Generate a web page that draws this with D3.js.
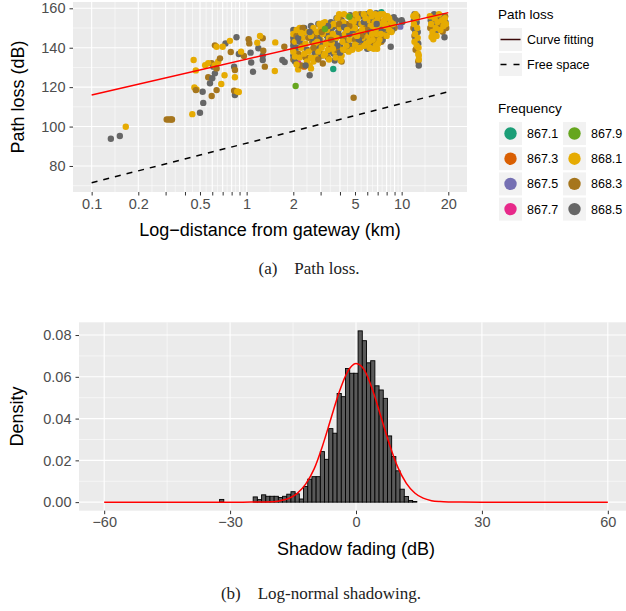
<!DOCTYPE html>
<html>
<head>
<meta charset="utf-8">
<script src="https://cdn.jsdelivr.net/npm/d3@7"></script>
<style>
  body { margin: 0; background: #fff; }
  text { font-family: "Liberation Sans", Arial, sans-serif; }
  .caption { font-family: "Liberation Serif", "DejaVu Serif", serif; }
</style>
</head>
<body>
<div id="chart"></div>
<script>
// ---- (a) path loss vs distance ----
const freqLabels = ["867.1", "867.3", "867.5", "867.7", "867.9", "868.1", "868.3", "868.5"];
const freqColors = ["#1B9E77", "#D95F02", "#7570B3", "#E7298A", "#66A61E", "#E6AB02", "#A6761D", "#666666"];

// [distance km, path loss dB] per channel
const pts8671 = [[3.62, 129.2], [7.4, 158], [9.0, 152.4]];
const pts8673 = [[2.35, 130.4], [3.48, 140.8]];
const pts8675 = [[9.8, 150.7]];
const pts8677 = [[2.15, 132.1]];
const pts8679 = [[2.07, 120.6], [4.6, 155.7], [3.2, 149.5]];
const pts8681 = [
  [0.166, 99.9], [0.446, 106.3], [0.46, 119.8], [0.475, 118.8], [0.455, 133.8], [0.47, 128.5],
  [0.54, 131.1], [0.565, 132.1], [0.62, 131], [0.655, 132.9], [0.70, 140.5], [0.64, 140.5],
  [0.78, 143.5], [0.686, 121.6], [0.72, 126], [0.84, 125], [0.87, 117.8], [0.89, 117.5],
  [0.92, 138], [1.22, 146], [1.17, 142.5], [1.53, 142.7], [1.52, 128.2],
  [2.0, 147], [2.05, 143], [2.1, 149], [2.15, 129], [2.2, 135], [2.25, 140], [2.3, 145],
  [2.35, 137], [2.4, 142], [2.45, 133], [2.1, 131.5], [2.0, 138], [2.2, 150], [2.4, 148],
  [2.55, 131], [2.6, 129.5], [2.6, 146], [2.65, 139], [2.7, 150], [2.75, 142], [2.8, 135],
  [2.85, 148], [2.9, 138], [2.95, 152], [3.0, 144], [3.05, 140], [3.1, 147], [3.15, 136],
  [3.2, 153], [3.25, 142], [3.3, 149], [3.35, 139], [3.4, 145], [3.45, 151], [2.6, 135],
  [2.7, 133], [3.0, 150], [3.2, 137],
  [3.55, 142], [3.6, 147], [3.65, 152], [3.7, 138], [3.8, 145], [3.85, 155], [3.9, 140],
  [4.0, 150], [4.1, 136], [4.15, 143], [4.2, 153], [4.3, 147], [4.4, 141], [4.5, 156],
  [4.6, 144], [4.7, 150], [4.8, 139], [4.9, 153], [4.95, 146], [3.75, 135], [4.05, 133.5],
  [4.25, 157], [4.55, 138],
  [5.0, 150], [5.1, 143], [5.2, 155], [5.3, 147], [5.4, 140], [5.5, 152], [5.6, 145],
  [5.7, 157], [5.8, 149], [5.9, 142], [6.0, 154], [6.1, 146], [6.2, 140], [6.3, 151],
  [6.4, 156], [6.5, 144], [6.6, 149], [6.7, 153], [6.8, 141], [6.9, 147], [7.0, 155],
  [7.1, 150], [7.2, 144], [7.3, 157], [7.4, 152], [5.25, 139.5], [5.75, 141], [6.25, 158],
  [6.95, 139.5], [5.05, 157],
  [7.5, 148], [7.7, 154], [7.9, 151], [8.1, 156], [8.3, 149], [8.5, 153], [8.0, 146],
  [7.6, 157], [8.8, 152],
  [11.9, 156], [12.0, 152], [12.2, 147], [12.4, 155], [12.1, 143], [12.6, 150], [12.8, 137],
  [12.9, 134], [12.85, 140], [12.7, 145], [12.3, 157], [12.5, 141], [12.9, 136],
  [15.2, 156], [15.5, 152], [15.8, 148], [16.0, 144.3], [16.3, 155], [16.6, 150], [17.0, 153],
  [17.4, 157], [17.8, 149], [18.2, 154], [18.6, 151], [19.0, 155], [19.3, 152], [15.6, 145.5],
  [16.8, 146],
  [2.25, 147.5], [2.5, 138], [2.85, 143], [3.1, 152.5], [3.4, 134], [3.95, 157], [4.45, 149],
  [4.75, 154], [5.15, 146], [5.55, 149], [5.85, 155], [6.15, 143], [6.45, 147], [6.75, 157],
  [7.05, 142], [7.35, 147], [7.8, 152], [8.3, 155], [2.05, 135.5], [3.6, 139.5], [4.2, 139],
  [5.0, 141.5], [6.6, 139.5], [8.6, 148]
];
const pts8683 = [
  [0.305, 103.6], [0.315, 103.6], [0.325, 103.6], [0.33, 103.6], [0.47, 118.5], [0.565, 125],
  [0.595, 115.5], [0.595, 132.1], [0.624, 141.2], [0.64, 129.5], [0.64, 118.5], [0.673, 134.6],
  [0.79, 137.8], [0.84, 128.7], [0.83, 118.2], [0.96, 135.8], [1.03, 144.3], [1.04, 142.2],
  [1.27, 144.8], [1.28, 138.5], [1.31, 130.4], [1.75, 140.5],
  [2.0, 143], [2.0, 139], [2.0, 134], [2.1, 146], [2.15, 137], [2.25, 131], [2.3, 141],
  [2.4, 135], [2.5, 145],
  [2.55, 135], [2.65, 143], [2.8, 145], [2.9, 141], [3.0, 137], [3.15, 151], [3.3, 143],
  [3.45, 148], [2.7, 148], [3.1, 132], [3.35, 135],
  [3.6, 145], [3.75, 151], [3.9, 136], [4.0, 146], [4.1, 133], [4.25, 139], [4.4, 152],
  [4.55, 147], [4.7, 141], [4.85, 155], [4.0, 156], [4.3, 144], [4.9, 114.6],
  [5.1, 153], [5.25, 148], [5.4, 157], [5.6, 141], [5.75, 151], [5.9, 146], [6.05, 156],
  [6.2, 143], [6.35, 149], [6.5, 153], [6.65, 142], [6.8, 150], [6.95, 145], [7.1, 156],
  [7.25, 148], [7.4, 143],
  [7.7, 149], [7.9, 156], [8.2, 148], [8.4, 154], [9.0, 150],
  [11.9, 150], [12.1, 146], [12.4, 152], [12.6, 156], [12.8, 133], [12.6, 143], [12.3, 139],
  [15.3, 150], [16.1, 148], [16.9, 155], [17.6, 151], [18.4, 148.1], [19.1, 156], [19.4, 150],
  [2.3, 150], [2.7, 140], [3.05, 148], [3.5, 144], [3.95, 152], [4.6, 151], [5.0, 144],
  [5.5, 146], [6.0, 149], [6.6, 145], [7.2, 153], [7.6, 146], [8.5, 151], [2.9, 134], [3.8, 139]
];
const pts8685 = [
  [0.133, 93.8], [0.152, 95.2], [0.50, 107], [0.525, 112], [0.52, 117.7], [0.58, 122],
  [0.60, 124.5], [0.624, 127], [0.61, 130.4], [0.73, 142.2], [0.86, 145.3], [0.83, 130.4],
  [0.84, 116], [0.89, 136.8], [1.06, 137.5], [1.10, 127.8], [1.19, 139.7], [1.27, 133.8],
  [1.27, 136], [1.07, 132.5], [1.70, 133.8], [1.76, 132.7],
  [2.0, 149], [2.0, 145], [2.0, 141], [2.0, 136], [2.05, 133], [2.1, 140], [2.2, 143],
  [2.3, 147], [2.45, 139], [2.55, 126], [2.35, 150],
  [2.6, 151], [2.7, 144], [2.8, 140], [2.9, 152], [3.0, 147], [3.1, 142], [3.2, 150],
  [3.3, 146], [3.4, 138], [3.5, 153], [2.75, 137], [3.05, 136], [3.7, 133.5],
  [3.55, 150], [3.7, 143], [3.8, 155], [3.9, 148], [4.0, 141], [4.1, 154], [4.2, 146],
  [4.35, 150], [4.5, 143], [4.65, 156.5], [4.8, 148], [4.9, 141], [3.65, 137], [4.45, 139],
  [5.05, 146], [5.2, 141], [5.35, 152], [5.5, 156], [5.65, 148], [5.8, 143], [5.95, 157],
  [6.1, 151], [6.25, 145], [6.4, 140], [6.55, 155], [6.7, 147], [6.85, 157.5], [7.0, 151],
  [7.15, 146], [7.3, 153], [5.45, 144], [6.0, 139.5],
  [7.6, 151], [7.8, 147], [8.0, 155], [8.2, 152], [8.7, 149], [9.2, 154], [8.5, 140.5],
  [7.55, 144], [10.0, 154], [10.1, 153],
  [12.0, 154], [12.2, 149], [12.5, 153], [12.3, 144], [12.7, 148], [12.9, 131], [12.8, 142],
  [12.1, 157],
  [15.4, 154], [15.9, 146.5], [16.5, 152], [17.2, 149], [18.0, 156], [18.9, 145.3], [19.2, 153],
  [16.2, 157],
  [2.15, 145], [2.55, 148], [2.95, 144], [3.35, 151], [3.85, 141], [4.25, 150.5], [4.6, 147],
  [5.3, 144], [5.7, 153], [6.3, 148], [6.9, 152], [7.45, 149], [8.1, 150], [8.9, 155.5],
  [2.4, 131], [4.0, 137.5]
];

// fitted lines (distance km -> dB)
const lineDist = [0.1, 20];
const curveFitLoss = [116.0, 157.8];
const freeSpaceLoss = [71.5, 117.7];

const distBreaks = [0.1, 0.2, 0.3, 0.4, 0.5, 0.6, 0.7, 0.8, 0.9, 1, 2, 3, 4, 5, 6, 7, 8, 9, 10, 20];
const distLabels = [0.1, 0.2, 0.5, 1, 2, 5, 10, 20];
const lossBreaks = [80, 100, 120, 140, 160];
const lossMinor = [70, 90, 110, 130, 150];

// ---- (b) shadow fading histogram ----
const fadingBinMid = d3.range(-32, 20);
const fadingDensity = [
  0.0013, 0, 0, 0, 0, 0, 0, 0,
  0.0025, 0.0012, 0.0035, 0.0028, 0.0028, 0.0028, 0.0022, 0.0028, 0.0038, 0.0050, 0.0040, 0.0015,
  0.0075, 0.0110, 0.0122, 0.0122, 0.0242, 0.0205, 0.0352, 0.0330, 0.0520, 0.0505,
  0.0640, 0.0617, 0.0617, 0.0820, 0.0773, 0.0667, 0.0677, 0.0557, 0.0537, 0.0497,
  0.0317, 0.0218, 0.0150, 0.0062, 0.0027, 0.0008, 0.0003, 0, 0, 0, 0, 0
];
const fitX = [-60, -40, -30, -25, -22, -20, -18, -16, -14, -12, -10, -8, -6, -4, -2, 0, 2, 4, 6, 8, 10, 12, 14, 16, 18, 20, 22, 25, 30, 40, 60];
const fitY = [0, 0, 0, 0.00001, 0.00008, 0.0002, 0.0007, 0.0018, 0.0042, 0.0086, 0.0158, 0.0268, 0.0398, 0.0527, 0.0625, 0.0664, 0.0632, 0.0535, 0.0405, 0.0275, 0.0165, 0.009, 0.0044, 0.0019, 0.0007, 0.00025, 0.00008, 0.00001, 0, 0, 0];
const fadingBreaks = [-60, -30, 0, 30, 60];
const fadingMinor = [-45, -15, 15, 45];
const densBreaks = [0, 0.02, 0.04, 0.06, 0.08];
const densMinor = [0.01, 0.03, 0.05, 0.07];

const W = 626, H = 611;
const svg = d3.select("#chart").append("svg").attr("width", W).attr("height", H);

const panelBg = "#ebebeb", axisText = "#4d4d4d", tickCol = "#333333";

function grid(g, p, xs, ys, x, y, w) {
  g.selectAll(null).data(xs).enter().append("line")
    .attr("x1", d => x(d)).attr("x2", d => x(d)).attr("y1", p.top).attr("y2", p.bottom)
    .attr("stroke", "#fff").attr("stroke-width", w);
  g.selectAll(null).data(ys).enter().append("line")
    .attr("y1", d => y(d)).attr("y2", d => y(d)).attr("x1", p.left).attr("x2", p.right)
    .attr("stroke", "#fff").attr("stroke-width", w);
}

function styleAxis(g) {
  g.select(".domain").remove();
  g.selectAll(".tick line").attr("stroke", tickCol).attr("stroke-width", 1);
  g.selectAll(".tick text").attr("fill", axisText).style("font-size", "14.5px")
    .style("font-family", "Liberation Sans, Arial, sans-serif");
}

// ================= panel (a) =================
const p1 = { left: 73, right: 467, top: 2, bottom: 192 };
const x1 = d3.scaleLog().domain([0.0758, 26.4]).range([p1.left, p1.right]);
const y1 = d3.scaleLinear().domain([66.8, 163.2]).range([p1.bottom, p1.top]);

const g1 = svg.append("g");
g1.append("rect").attr("x", p1.left).attr("y", p1.top)
  .attr("width", p1.right - p1.left).attr("height", p1.bottom - p1.top).attr("fill", panelBg);

const distMinor = d3.pairs(distBreaks).map(([a, b]) => Math.sqrt(a * b));
grid(g1, p1, distMinor, lossMinor, x1, y1, 0.55);
grid(g1, p1, distBreaks, lossBreaks, x1, y1, 1.1);

svg.append("clipPath").attr("id", "clip1").append("rect")
  .attr("x", p1.left).attr("y", p1.top).attr("width", p1.right - p1.left).attr("height", p1.bottom - p1.top);

// points: interleave the busy channels so layering looks mixed
const groups = [pts8671, pts8673, pts8675, pts8677, pts8679, pts8681, pts8683, pts8685];
const rarePts = [];
[0, 1, 2, 3].forEach(i => groups[i].forEach(p => rarePts.push({ d: p[0], v: p[1], c: i })));
const commonPts = [];
const maxLen = d3.max([pts8681, pts8683, pts8685], a => a.length);
for (let k = 0; k < maxLen; k++) {
  [7, 6, 5].forEach(i => { if (groups[i][k]) commonPts.push({ d: groups[i][k][0], v: groups[i][k][1], c: i }); });
}
const greenPts = groups[4].map(p => ({ d: p[0], v: p[1], c: 4 }));
const allPts = rarePts.concat(commonPts, greenPts);

g1.append("g").attr("clip-path", "url(#clip1)")
  .selectAll("circle").data(allPts).enter().append("circle")
  .attr("cx", d => x1(d.d)).attr("cy", d => y1(d.v)).attr("r", 3.2)
  .attr("fill", d => freqColors[d.c]);

const lineGen = d3.line().x(d => x1(d[0])).y(d => y1(d[1]));
g1.append("path").datum(lineDist.map((d, i) => [d, freeSpaceLoss[i]]))
  .attr("d", lineGen).attr("fill", "none").attr("stroke", "#000")
  .attr("stroke-width", 1.5).attr("stroke-dasharray", "6,6");
g1.append("path").datum(lineDist.map((d, i) => [d, curveFitLoss[i]]))
  .attr("d", lineGen).attr("fill", "none").attr("stroke", "#ff0000").attr("stroke-width", 1.5);

const ax1 = g1.append("g").attr("transform", `translate(0,${p1.bottom})`)
  .call(d3.axisBottom(x1).tickValues(distBreaks).tickSize(3.5).tickPadding(3)
    .tickFormat(d => distLabels.includes(d) ? String(d) : ""));
styleAxis(ax1);
const ay1 = g1.append("g").attr("transform", `translate(${p1.left},0)`)
  .call(d3.axisLeft(y1).tickValues(lossBreaks).tickSize(3.5).tickPadding(4));
styleAxis(ay1);

g1.append("text").attr("x", (p1.left + p1.right) / 2).attr("y", 236)
  .attr("text-anchor", "middle").style("font-size", "18px").attr("fill", "#000")
  .text("Log\u2212distance from gateway (km)");
g1.append("text").attr("transform", `translate(24,${(p1.top + p1.bottom) / 2}) rotate(-90)`)
  .attr("text-anchor", "middle").style("font-size", "18px").attr("fill", "#000")
  .text("Path loss (dB)");

// legend
const lg = svg.append("g");
lg.append("text").attr("x", 498).attr("y", 19).style("font-size", "13.5px").text("Path loss");
const lineKeys = [{ label: "Curve fitting", dash: null }, { label: "Free space", dash: "6,7" }];
lineKeys.forEach((k, i) => {
  const ky = 28 + i * 25;
  lg.append("rect").attr("x", 499).attr("y", ky).attr("width", 23).attr("height", 23).attr("fill", "#f2f2f2");
  lg.append("line").attr("x1", 500.5).attr("x2", 520.5).attr("y1", ky + 11.5).attr("y2", ky + 11.5)
    .attr("stroke", i === 0 ? "#3a0808" : "#000").attr("stroke-width", 1.5)
    .attr("stroke-dasharray", k.dash);
  lg.append("text").attr("x", 527).attr("y", ky + 16).style("font-size", "12.5px").text(k.label);
});
lg.append("text").attr("x", 498).attr("y", 113).style("font-size", "13.5px").text("Frequency");
freqLabels.forEach((f, i) => {
  const col = Math.floor(i / 4), row = i % 4;
  const kx = 499 + col * 64, ky = 122 + row * 25.2;
  lg.append("rect").attr("x", kx).attr("y", ky).attr("width", 23).attr("height", 23).attr("fill", "#f2f2f2");
  lg.append("circle").attr("cx", kx + 11.5).attr("cy", ky + 11.5).attr("r", 6.2).attr("fill", freqColors[i]);
  lg.append("text").attr("x", kx + 28).attr("y", ky + 16).style("font-size", "12.5px").text(f);
});

svg.append("text").attr("class", "caption").attr("x", 309).attr("y", 274)
  .attr("text-anchor", "middle").style("font-size", "17px").attr("fill", "#222")
  .text("(a)\u2003Path loss.");

// ================= panel (b) =================
const p2 = { left: 79, right: 633, top: 322.3, bottom: 510.7 };
const x2 = d3.scaleLinear().domain([-66, 66]).range([p2.left, p2.right]);
const y2 = d3.scaleLinear().domain([-0.0041, 0.0861]).range([p2.bottom, p2.top]);

const g2 = svg.append("g");
g2.append("rect").attr("x", p2.left).attr("y", p2.top)
  .attr("width", p2.right - p2.left).attr("height", p2.bottom - p2.top).attr("fill", panelBg);
grid(g2, p2, fadingMinor, densMinor, x2, y2, 0.55);
grid(g2, p2, fadingBreaks, densBreaks, x2, y2, 1.1);

const binW = 1;
g2.append("g").selectAll("rect").data(fadingBinMid).enter().append("rect")
  .attr("x", d => x2(d - binW / 2)).attr("width", d => x2(d + binW / 2) - x2(d - binW / 2))
  .attr("y", (d, i) => y2(fadingDensity[i]))
  .attr("height", (d, i) => y2(0) - y2(fadingDensity[i]))
  .attr("fill", "#595959").attr("stroke", "#000").attr("stroke-width", 0.9);

g2.append("path").datum(fitX.map((d, i) => [d, fitY[i]]))
  .attr("d", d3.line().curve(d3.curveMonotoneX).x(d => x2(d[0])).y(d => y2(d[1])))
  .attr("fill", "none").attr("stroke", "#ff0000").attr("stroke-width", 1.5);

const ax2 = g2.append("g").attr("transform", `translate(0,${p2.bottom})`)
  .call(d3.axisBottom(x2).tickValues(fadingBreaks).tickSize(3.5).tickPadding(3));
styleAxis(ax2);
const ay2 = g2.append("g").attr("transform", `translate(${p2.left},0)`)
  .call(d3.axisLeft(y2).tickValues(densBreaks).tickSize(3.5).tickPadding(4).tickFormat(d3.format(".2f")));
styleAxis(ay2);

g2.append("text").attr("x", x2(0)).attr("y", 555)
  .attr("text-anchor", "middle").style("font-size", "18px").attr("fill", "#000")
  .text("Shadow fading (dB)");
g2.append("text").attr("transform", `translate(23,${(p2.top + p2.bottom) / 2}) rotate(-90)`)
  .attr("text-anchor", "middle").style("font-size", "18px").attr("fill", "#000")
  .text("Density");

svg.append("text").attr("class", "caption").attr("x", 321).attr("y", 599)
  .attr("text-anchor", "middle").style("font-size", "17px").attr("fill", "#222")
  .text("(b)\u2003Log-normal shadowing.");
</script>
</body>
</html>
